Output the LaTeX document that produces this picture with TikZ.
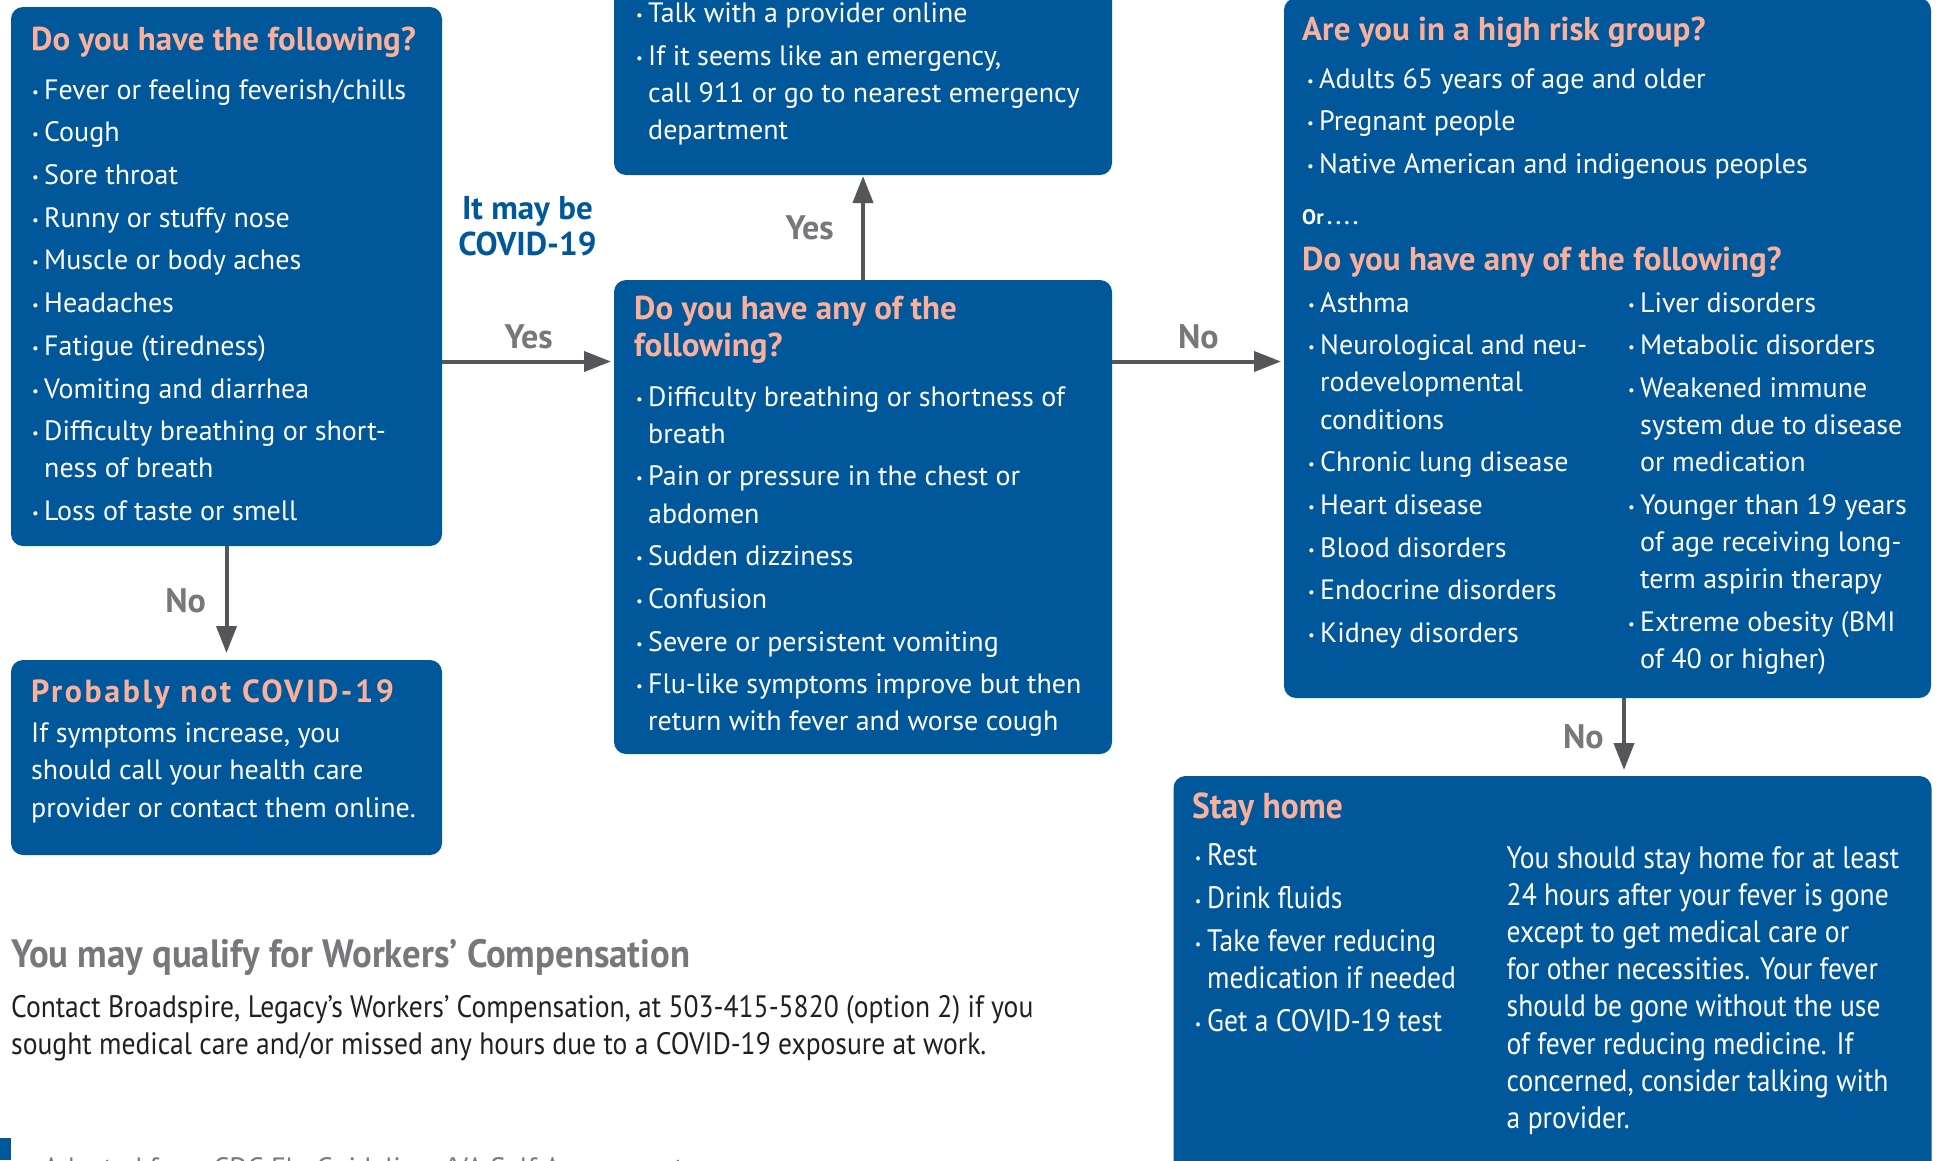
\documentclass[tikz,border=0pt]{standalone}
\usepackage{fontspec}
\setmainfont{PT Sans}
\newfontfamily\condfont[FakeStretch=0.89]{PT Sans}
\newfontfamily\condbold[FakeStretch=0.93]{PT Sans Bold}
\usetikzlibrary{arrows.meta}
\definecolor{boxblue}{RGB}{0,87,154}
\definecolor{salmon}{RGB}{250,176,154}
\definecolor{arrowgray}{RGB}{85,86,90}
\definecolor{labelgray}{RGB}{119,120,124}
\definecolor{darktext}{RGB}{35,31,32}
\newcommand\bodyfont{\fontsize{28}{37.1}\selectfont}
\newcommand\bu{\makebox[12pt][l]{\raisebox{2pt}{\fontsize{15}{15}\selectfont\textbullet}}}
\newcommand\ii{\hspace*{12pt}}
\newcommand\gp{\\[5.6pt]}
\tikzset{
  box/.style={fill=boxblue, rounded corners=12pt, inner sep=0pt, outer sep=0pt, anchor=north west},
  txt/.style={inner sep=0pt, anchor=north west, align=left, text=white, font=\bodyfont},
  ctxt/.style={inner sep=0pt, anchor=north west, align=left, text=white, font=\condfont\fontsize{31}{37.2}\selectfont},
  ttl/.style={inner sep=0pt, anchor=base west, text=salmon, font=\bfseries\fontsize{33}{38}\selectfont},
  lbl/.style={inner sep=0pt, text=labelgray, font=\bfseries\fontsize{34}{38}\selectfont},
  arr/.style={draw=arrowgray, line width=4pt, -{Triangle[length=27pt,width=20pt]}},
}
\begin{document}
\begin{tikzpicture}[x=1pt,y=-1pt]
\clip (0,0) rectangle (1941,1160);
\useasboundingbox (0,0) rectangle (1941,1160);
% boxes
\node[box, minimum width=431pt, minimum height=539pt] (b1) at (11,7) {};
\node[box, minimum width=431pt, minimum height=195pt] (b2) at (11,660) {};
\node[box, minimum width=498pt, minimum height=474pt] (b3) at (614,280) {};
\node[box, minimum width=498pt, minimum height=215pt] (b4) at (614,-40) {};
\node[box, minimum width=647pt, minimum height=700pt] (b5) at (1284,-2) {};
\node[box, minimum width=758pt, minimum height=420pt] (b6) at (1173.5,776) {};
% box 1
\node[ttl] (t1) at (31,50.5) {Do you have the following?};
\node[txt] (l1) at (32,73) {\strut\bu Fever or feeling feverish/chills\gp
\bu Cough\gp
\bu Sore throat\gp
\bu Runny or stuffy nose\gp
\bu Muscle or body aches\gp
\bu Headaches\gp
\bu Fatigue (tiredness)\gp
\bu Vomiting and diarrhea\gp
\bu Difficulty breathing or short-\\
\ii ness of breath\gp
\bu Loss of taste or smell};
% box 2
\node[ttl, font=\bfseries\fontsize{32}{36}\selectfont\addfontfeature{LetterSpace=8}] (t2) at (31,702) {Probably not COVID-19};
\node[txt] (l2) at (31,716.7) {\strut If symptoms increase, you\\
should call your health care\\
provider or contact them online.};
% box 3
\node[txt, text=salmon, font=\bfseries\fontsize{33}{37.1}\selectfont] (t3) at (634,293.4) {\strut Do you have any of the\\following?};
\node[txt] (l3) at (636,380) {\strut\bu Difficulty breathing or shortness of\\
\ii breath\gp
\bu Pain or pressure in the chest or\\
\ii abdomen\gp
\bu Sudden dizziness\gp
\bu Confusion\gp
\bu Severe or persistent vomiting\gp
\bu Flu-like symptoms improve but then\\
\ii return with fever and worse cough};
% box 4
\node[txt] (l4) at (636,-3.7) {\strut\bu Talk with a provider online\gp
\bu If it seems like an emergency,\\
\ii call 911 or go to nearest emergency\\
\ii department};
% box 5
\node[ttl] (t5) at (1302,40.6) {Are you in a high risk group?};
\node[txt] (l5) at (1307,61.9) {\strut\bu Adults 65 years of age and older\gp
\bu Pregnant people\gp
\bu Native American and indigenous peoples};
\node[inner sep=0pt, anchor=base west, text=white, font=\bfseries\fontsize{21}{24}\selectfont] (or) at (1302,224) {Or\,.\,.\,.\,.};
\node[ttl] (t5b) at (1302,270.9) {Do you have any of the following?};
\node[txt] (l5a) at (1308,286) {\strut\bu Asthma\gp
\bu Neurological and neu-\\
\ii rodevelopmental\\
\ii conditions\gp
\bu Chronic lung disease\gp
\bu Heart disease\gp
\bu Blood disorders\gp
\bu Endocrine disorders\gp
\bu Kidney disorders};
\node[txt] (l5b) at (1628,286) {\strut\bu Liver disorders\gp
\bu Metabolic disorders\gp
\bu Weakened immune\\
\ii system due to disease\\
\ii or medication\gp
\bu Younger than 19 years\\
\ii of age receiving long-\\
\ii term aspirin therapy\gp
\bu Extreme obesity (BMI\\
\ii of 40 or higher)};
% box 6
\node[ttl, font=\condbold\fontsize{36}{40}\selectfont] (t6) at (1192,818) {Stay home};
\node[ctxt] (l6a) at (1195,839.3) {\strut\bu Rest\gp
\bu Drink fluids\gp
\bu Take fever reducing\\
\ii medication if needed\gp
\bu Get a COVID-19 test};
\node[ctxt] (l6b) at (1506.5,841.8) {\strut You should stay home for at least\\
24 hours after your fever is gone\\
except to get medical care or\\
for other necessities. Your fever\\
should be gone without the use\\
of fever reducing medicine. If\\
concerned, consider talking with\\
a provider.};
% workers comp
\node[inner sep=0pt, anchor=base west, text=labelgray, font=\condbold\fontsize{39.5}{44}\selectfont] (wc) at (11,967) {You may qualify for Workers’ Compensation};
\node[inner sep=0pt, anchor=north west, align=left, text=darktext, font=\condfont\fontsize{31}{37.1}\selectfont] (wct) at (11,991.6) {\strut Contact Broadspire, Legacy’s Workers’ Compensation, at 503-415-5820 (option 2) if you\\
sought medical care and/or missed any hours due to a COVID-19 exposure at work.};
% footer
\fill[boxblue] (0,1138) rectangle (11,1160);
\node[inner sep=0pt, anchor=base west, text=labelgray, font=\fontsize{28}{32}\selectfont] (src) at (43,1177) {Adapted from CDC Flu Guidelines/VA Self Assessment};
% labels
\node[text=boxblue, inner sep=0pt, align=center, font=\bfseries\fontsize{33}{36}\selectfont] (may) at (527.4,226) {It may be\\COVID-19};
\coordinate (yA) at (0,361.5);
\coordinate (xB) at (1624,0);
\draw[arr, shorten >=3pt] (b1.east |- yA) -- (b3.west |- yA);
\draw[arr, shorten >=7pt] (b1.south) -- (b2.north);
\draw[arr, shorten >=1pt] (b3.north) -- (b4.south);
\draw[arr, shorten >=3pt] (b3.east |- yA) -- (b5.west |- yA);
\draw[arr, shorten >=6pt] (b5.south -| xB) -- (b6.north -| xB);
\node[lbl] (y1) at (528.6,336.7) {Yes};
\node[lbl] (n1) at (185.7,600.4) {No};
\node[lbl] (y2) at (809.6,227.8) {Yes};
\node[lbl] (n2) at (1198.3,336.7) {No};
\node[lbl] (n3) at (1583.3,736.6) {No};
\end{tikzpicture}
\end{document}
